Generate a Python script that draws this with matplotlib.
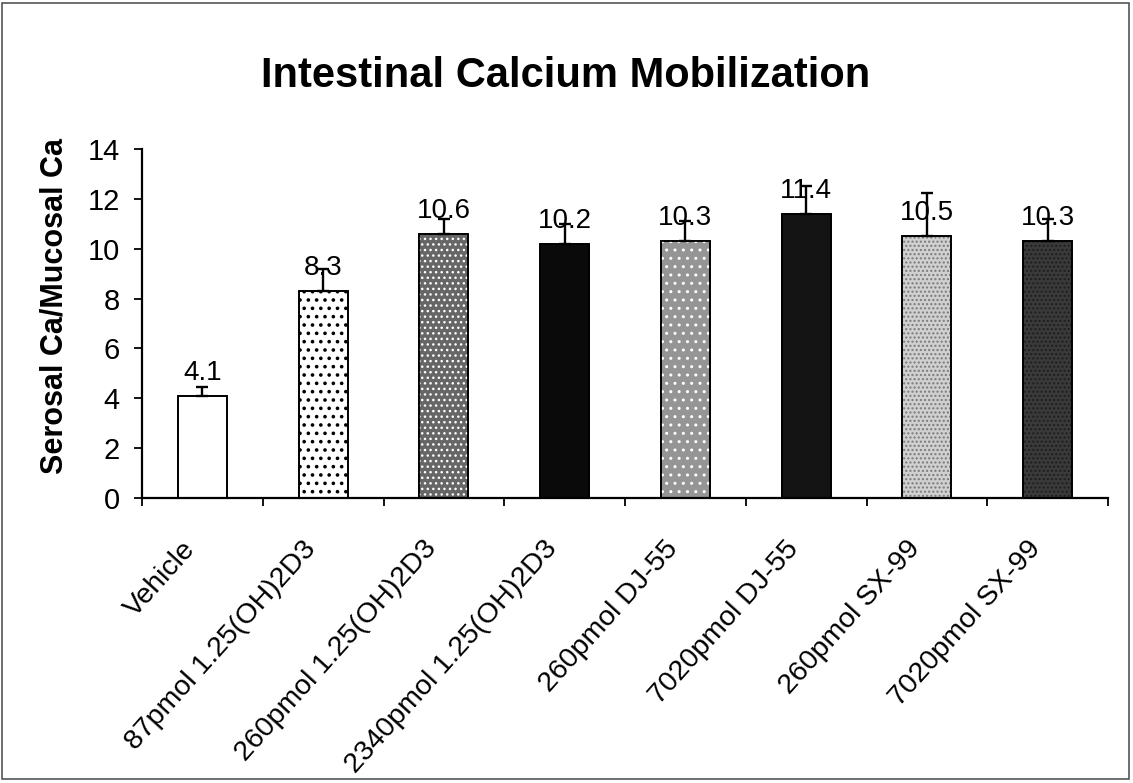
import matplotlib
matplotlib.use("Agg")
import matplotlib.pyplot as plt
from matplotlib.transforms import ScaledTranslation
from matplotlib.patches import Rectangle

plt.rcParams['font.family'] = ['Liberation Sans', 'DejaVu Sans']

categories = ["Vehicle", "87pmol 1.25(OH)2D3", "260pmol 1.25(OH)2D3",
              "2340pmol 1.25(OH)2D3", "260pmol DJ-55", "7020pmol DJ-55",
              "260pmol SX-99", "7020pmol SX-99"]
values = [4.1, 8.3, 10.6, 10.2, 10.3, 11.4, 10.5, 10.3]
errors = [0.35, 0.9, 0.58, 0.8, 0.8, 1.1, 1.75, 0.9]
value_labels = ["4.1", "8.3", "10.6", "10.2", "10.3", "11.4", "10.5", "10.3"]
yticks = [0, 2, 4, 6, 8, 10, 12, 14]

faces = ['white', 'white', '#666666', '#0a0a0a', '#959595', '#141414', '#d0d0d0', '#3a3a3a']
hatches = [None, '..', '...', None, '..', None, '....', '....']
hatch_cols = [None, 'black', 'white', None, 'white', None, '#7a7a7a', '#1e1e1e']
hatch_lws = [1.0, 1.4, 1.0, 1.0, 1.0, 1.0, 1.0, 1.0]

W, H = 1133, 783
fig = plt.figure(figsize=(W / 100, H / 100), dpi=100)
ax = fig.add_axes([142 / W, 1 - 498 / H, (1108 - 142) / W, (498 - 149) / H])

x = list(range(len(categories)))
ax.bar(x, values, width=0.405, color=faces, edgecolor='black', linewidth=1.2, zorder=2)
for i in x:
    if hatches[i]:
        with plt.rc_context({'hatch.linewidth': hatch_lws[i]}):
            ax.bar(i, values[i], width=0.405, color='none', edgecolor=hatch_cols[i],
                   hatch=hatches[i], linewidth=0, zorder=3)
ax.bar(x, values, width=0.405, color='none', edgecolor='black', linewidth=1.3, zorder=4)

ax.errorbar(x, values, yerr=[[0] * len(values), errors], fmt='none', ecolor='black',
            elinewidth=1.7, capsize=4, capthick=1.7, zorder=5)

for i in x:
    ax.annotate(value_labels[i], (i, values[i]), xytext=(0, 11.5), textcoords='offset points',
                ha='center', va='baseline', fontsize=20, zorder=6)

ax.set_xlim(-0.5, len(categories) - 0.5)
ax.set_ylim(0, 14)
ax.set_yticks(yticks)
ax.set_yticklabels([str(v) for v in yticks], fontsize=21)
ax.tick_params(axis='y', direction='out', length=6, width=1.3, pad=10)

ax.set_xticks(x)
ax.set_xticklabels(categories, fontsize=20.5, rotation=48, ha='right', va='top',
                   rotation_mode='anchor')
ax.set_xticks([i - 0.5 for i in range(len(categories) + 1)], minor=True)
ax.tick_params(axis='x', which='major', length=0, pad=0)
ax.tick_params(axis='x', which='minor', direction='out', length=6, width=1.3)
off = ScaledTranslation(-21 / 100, -38 / 100, fig.dpi_scale_trans)
for lab in ax.get_xticklabels():
    lab.set_transform(lab.get_transform() + off)

for s in ['top', 'right']:
    ax.spines[s].set_visible(False)
for s in ['left', 'bottom']:
    ax.spines[s].set_linewidth(1.6)

fig.text(566 / W, 1 - 76 / H, "Intestinal Calcium Mobilization", ha='center', va='center',
         fontsize=30, fontweight='bold')
fig.text(55 / W, 1 - 306 / H, "Serosal Ca/Mucosal Ca", ha='center', va='center',
         rotation=90, fontsize=22, fontweight='bold')

fig.patches.append(Rectangle((2 / W, 4 / H), 1 - 6 / W, 1 - 7 / H, transform=fig.transFigure,
                             fill=False, edgecolor='#555555', linewidth=1.2))

fig.savefig("out.png", dpi=100)
